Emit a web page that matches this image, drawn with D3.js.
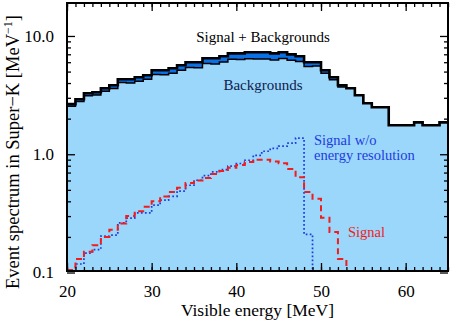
<!DOCTYPE html>
<html>
<head>
<meta charset="utf-8">
<script src="https://cdn.jsdelivr.net/npm/d3@7"></script>
<style>
  body { margin: 0; background: #fff; }
  svg text { font-family: "Liberation Serif", "DejaVu Serif", serif; }
</style>
</head>
<body>
<svg id="chart" width="450" height="321"></svg>
<script>
// bin lower edges, 1 MeV wide
var energy = [20,21,22,23,24,25,26,27,28,29,30,31,32,33,34,35,36,37,38,39,40,41,42,
              43,44,45,46,47,48,49,50,51,52,53,54,55,56,57,58,59,60,61,62,63,64];
var backgrounds = [2.55,2.79,3.13,3.17,3.41,3.60,4.04,4.00,4.15,4.30,4.73,4.69,4.85,5.13,5.42,5.39,
                   5.85,5.80,6.01,6.36,6.32,6.42,6.38,6.38,6.26,6.44,6.24,6.09,5.51,5.57,4.84,4.26,
                   3.70,3.61,3.15,2.70,2.50,2.50,1.76,1.76,1.76,1.86,1.76,1.76,1.86];
var signal = [0.105,0.13,0.15,0.17,0.20,0.23,0.26,0.30,0.33,0.36,0.40,0.44,0.48,0.52,0.57,0.60,
              0.63,0.68,0.72,0.77,0.81,0.86,0.90,0.90,0.87,0.84,0.75,0.64,0.48,0.42,0.29,0.22,
              0.13,0,0,0,0,0,0,0,0,0,0,0,0];
var signalNoRes = [0.1,0.118,0.146,0.156,0.203,0.207,0.263,0.288,0.319,0.319,0.371,0.409,0.441,0.487,
                   0.547,0.603,0.66,0.709,0.742,0.792,0.835,0.89,0.98,1.06,1.12,1.17,1.24,1.37,0.21,
                   0,0,0,0,0,0,0,0,0,0,0,0,0,0,0,0];
var xMajor = [20,30,40,50,60];
var yMajor = [0.1,1,10];
var yLabels = ["0.1","1.0","10.0"];

var svg = d3.select("#chart");
var pL = 67, pR = 448, pT = 3, pB = 271;

var x = d3.scaleLinear().domain([20,65]).range([pL,pR]);
var y = d3.scaleLog().domain([0.103,19]).range([pB,pT]);
var yMin = y.domain()[0];

var rows = energy.map(function(e,i){
  return {e:e, bg:backgrounds[i], sig:signal[i]};
});
var stacked = d3.stack().keys(["bg","sig"])(rows);

// step points, with the right edge of the last bin so the step reaches 65
function withEnd(vals){
  var pts = energy.map(function(e,i){ return [e, vals[i]]; });
  pts.push([65, vals[vals.length-1]]);
  return pts;
}

svg.append("clipPath").attr("id","clip")
  .append("rect").attr("x",pL).attr("y",pT).attr("width",pR-pL).attr("height",pB-pT);

var g = svg.append("g").attr("clip-path","url(#clip)");

var area = d3.area().curve(d3.curveStepAfter)
  .x(function(p){ return x(p[0]); })
  .y0(function(p){ return y(Math.max(p[1],yMin)); })
  .y1(function(p){ return y(Math.max(p[2],yMin)); });

var bgPts = withEnd(stacked[0].map(function(s){ return s[1]; }));
var totPts = withEnd(stacked[1].map(function(s){ return s[1]; }));

// light blue backgrounds
g.append("path")
  .datum(bgPts.map(function(p){ return [p[0], yMin, p[1]]; }))
  .attr("fill","#9ad7fb")
  .attr("d", area);

// dark blue signal band on top
g.append("path")
  .datum(bgPts.map(function(p,i){ return [p[0], p[1], totPts[i][1]]; }))
  .attr("fill","#0b6fe6")
  .attr("d", area);

var step = d3.line().curve(d3.curveStepAfter)
  .x(function(p){ return x(p[0]); })
  .y(function(p){ return y(Math.max(p[1],yMin)); });

g.append("path").datum(bgPts)
  .attr("fill","none").attr("stroke","#000").attr("stroke-width",1.5)
  .attr("d", step);

g.append("path").datum(totPts)
  .attr("fill","none").attr("stroke","#000").attr("stroke-width",2.6)
  .attr("d", step);

// signal without energy resolution
g.append("path").datum(energy.map(function(e,i){ return [e, signalNoRes[i]]; }))
  .attr("fill","none").attr("stroke","#1f3be0").attr("stroke-width",1.7)
  .attr("stroke-dasharray","1.7,2.3")
  .attr("d", step);

// smeared signal
g.append("path").datum(energy.map(function(e,i){ return [e, signal[i]]; }))
  .attr("fill","none").attr("stroke","#f21c1c").attr("stroke-width",2)
  .attr("stroke-dasharray","6,4")
  .attr("d", step);

// axes with inward ticks
var xMinor = d3.range(20,66,1);
var yMinor = [0.2,0.3,0.4,0.5,0.6,0.7,0.8,0.9,2,3,4,5,6,7,8,9];

function axisGroup(axis, tx, ty){
  var a = svg.append("g").attr("transform","translate("+tx+","+ty+")").call(axis);
  a.select(".domain").remove();
  a.selectAll("line").attr("stroke","#000").attr("stroke-width",1.3);
  return a;
}

axisGroup(d3.axisBottom(x).tickValues(xMinor).tickSize(-4).tickFormat(""), 0, pB);
axisGroup(d3.axisTop(x).tickValues(xMinor).tickSize(-4).tickFormat(""), 0, pT);
axisGroup(d3.axisTop(x).tickValues(xMajor).tickSize(-8).tickFormat(""), 0, pT);
var xa = axisGroup(d3.axisBottom(x).tickValues(xMajor).tickSize(-8).tickPadding(14).tickFormat(d3.format("d")), 0, pB);
xa.selectAll("text").attr("font-size",17).attr("fill","#000").attr("font-family","Liberation Serif");

axisGroup(d3.axisLeft(y).tickValues(yMinor).tickSize(-4).tickFormat(""), pL, 0);
axisGroup(d3.axisRight(y).tickValues(yMinor).tickSize(-4).tickFormat(""), pR, 0);
axisGroup(d3.axisRight(y).tickValues(yMajor).tickSize(-8).tickFormat(""), pR, 0);
var ya = axisGroup(d3.axisLeft(y).tickValues(yMajor).tickSize(-8).tickPadding(13)
  .tickFormat(function(d,i){ return yLabels[i]; }), pL, 0);
ya.selectAll("text").attr("font-size",17).attr("fill","#000").attr("font-family","Liberation Serif");

// frame
svg.append("rect").attr("x",pL).attr("y",pT).attr("width",pR-pL).attr("height",pB-pT)
  .attr("fill","none").attr("stroke","#000").attr("stroke-width",2);

// labels
svg.append("text").attr("x",(pL+pR)/2).attr("y",316).attr("text-anchor","middle")
  .attr("font-size",17.5).text("Visible energy [MeV]");

var yl = svg.append("text").attr("transform","translate(19,152) rotate(-90)")
  .attr("text-anchor","middle").attr("font-size",18.5);
yl.append("tspan").text("Event spectrum in Super\u2212K [MeV");
yl.append("tspan").attr("dy",-7).attr("font-size",12).text("\u22121");
yl.append("tspan").attr("dy",7).text("]");

svg.append("text").attr("x",263).attr("y",42).attr("text-anchor","middle")
  .attr("font-size",15).attr("fill","#000").text("Signal + Backgrounds");
svg.append("text").attr("x",263).attr("y",90).attr("text-anchor","middle")
  .attr("font-size",15).attr("fill","#10204a").text("Backgrounds");

svg.append("text").attr("x",314).attr("y",145).attr("font-size",14.5)
  .attr("fill","#1f3be0").text("Signal w/o");
svg.append("text").attr("x",314).attr("y",160).attr("font-size",14.5)
  .attr("fill","#1f3be0").text("energy resolution");
svg.append("text").attr("x",348).attr("y",237).attr("font-size",14.5)
  .attr("fill","#f21c1c").text("Signal");
</script>
</body>
</html>
